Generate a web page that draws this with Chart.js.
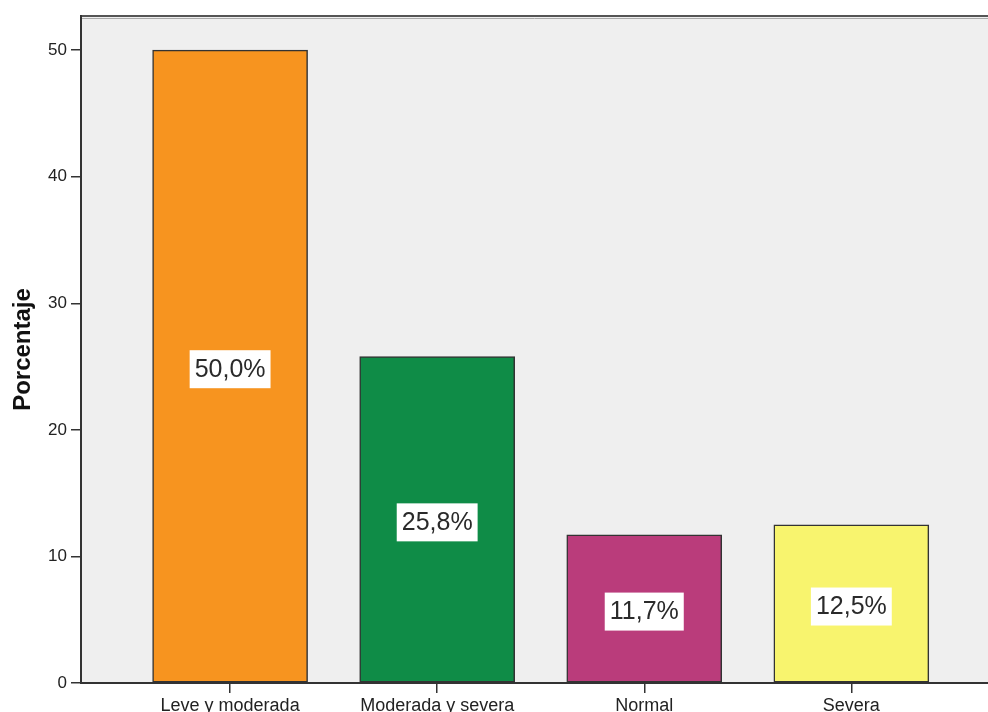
<!DOCTYPE html>
<html>
<head>
<meta charset="utf-8">
<script src="https://cdn.jsdelivr.net/npm/chart.js@4.4.1/dist/chart.umd.min.js"></script>
<style>
html,body{margin:0;padding:0;background:#fff;overflow:hidden;}
#wrap{width:988px;height:712px;position:relative;}
</style>
</head>
<body>
<div id="wrap"><canvas id="c"></canvas></div>
<script>
const categories = ["Leve y moderada", "Moderada y severa", "Normal", "Severa"];
const percentages = [50.0, 25.8, 11.7, 12.5];
const barColors = ["#F7941F", "#0F8C47", "#BA3C7B", "#F8F46E"];
const yTicks = [0, 10, 20, 30, 40, 50];

const FONT = "'Liberation Sans', Arial, sans-serif";

const plotBg = {
  id: 'plotBg',
  beforeDraw(chart) {
    const {ctx, chartArea: a} = chart;
    ctx.save();
    ctx.fillStyle = '#EFEFEF';
    ctx.fillRect(a.left, a.top, a.right - a.left, a.bottom - a.top);
    ctx.strokeStyle = '#555';
    ctx.lineWidth = 2;
    ctx.beginPath();
    ctx.moveTo(a.left, a.top);
    ctx.lineTo(a.right, a.top);
    ctx.stroke();
    ctx.strokeStyle = '#aaa';
    ctx.lineWidth = 1;
    ctx.beginPath();
    ctx.moveTo(a.left, a.top + 2.5);
    ctx.lineTo(a.right, a.top + 2.5);
    ctx.stroke();
    ctx.restore();
  }
};

const barLabels = {
  id: 'barLabels',
  afterDatasetsDraw(chart) {
    const {ctx} = chart;
    const meta = chart.getDatasetMeta(0);
    ctx.save();
    ctx.font = '25px ' + FONT;
    ctx.textAlign = 'center';
    ctx.textBaseline = 'middle';
    meta.data.forEach((bar, i) => {
      const txt = percentages[i].toFixed(1).replace('.', ',') + '%';
      const w = ctx.measureText(txt).width + 10;
      const h = 38;
      const cx = bar.x;
      const cy = (bar.y + bar.base) / 2 + 3;
      ctx.fillStyle = '#FFFFFF';
      ctx.fillRect(cx - w / 2, cy - h / 2, w, h);
      ctx.fillStyle = '#2a2a2a';
      ctx.fillText(txt, cx, cy + 1);
    });
    ctx.restore();
  }
};

new Chart(document.getElementById('c'), {
  type: 'bar',
  data: {
    datasets: [{
      data: percentages.map((v, i) => ({x: i, y: v})),
      backgroundColor: barColors,
      borderColor: '#333',
      borderWidth: 1.5,
      borderSkipped: false,
      barThickness: 155
    }]
  },
  options: {
    responsive: true,
    maintainAspectRatio: false,
    animation: false,
    layout: {padding: {top: 16, right: 0, left: 0, bottom: 0}},
    plugins: {legend: {display: false}, tooltip: {enabled: false}},
    scales: {
      x: {
        type: 'linear',
        offset: false,
        min: -0.72,
        max: 3.66,
        afterBuildTicks(scale) { scale.ticks = categories.map((_, i) => ({value: i})); },
        afterFit(scale) { scale.height = 29; },
        grid: {display: true, offset: false, drawOnChartArea: false, drawTicks: true, tickLength: 10, color: '#333', lineWidth: 1.5},
        border: {display: true, color: '#333', width: 2},
        ticks: {
          autoSkip: false,
          maxRotation: 0,
          padding: 2,
          color: '#222',
          font: {family: FONT, size: 18},
          callback: (v) => categories[v] ?? ''
        }
      },
      y: {
        min: 0,
        max: 52.7,
        afterBuildTicks(scale) { scale.ticks = yTicks.map(v => ({value: v})); },
        afterFit(scale) { scale.width = 81; },
        grid: {display: true, drawOnChartArea: false, drawTicks: true, tickLength: 10, color: '#333', lineWidth: 1.5},
        border: {display: true, color: '#333', width: 2},
        ticks: {
          padding: 4,
          color: '#222',
          font: {family: FONT, size: 17}
        },
        title: {
          display: true,
          text: 'Porcentaje',
          color: '#111',
          font: {family: FONT, size: 24, weight: 'bold'},
          padding: {top: 9, bottom: 0}
        }
      }
    }
  },
  plugins: [plotBg, barLabels]
});
</script>
</body>
</html>
